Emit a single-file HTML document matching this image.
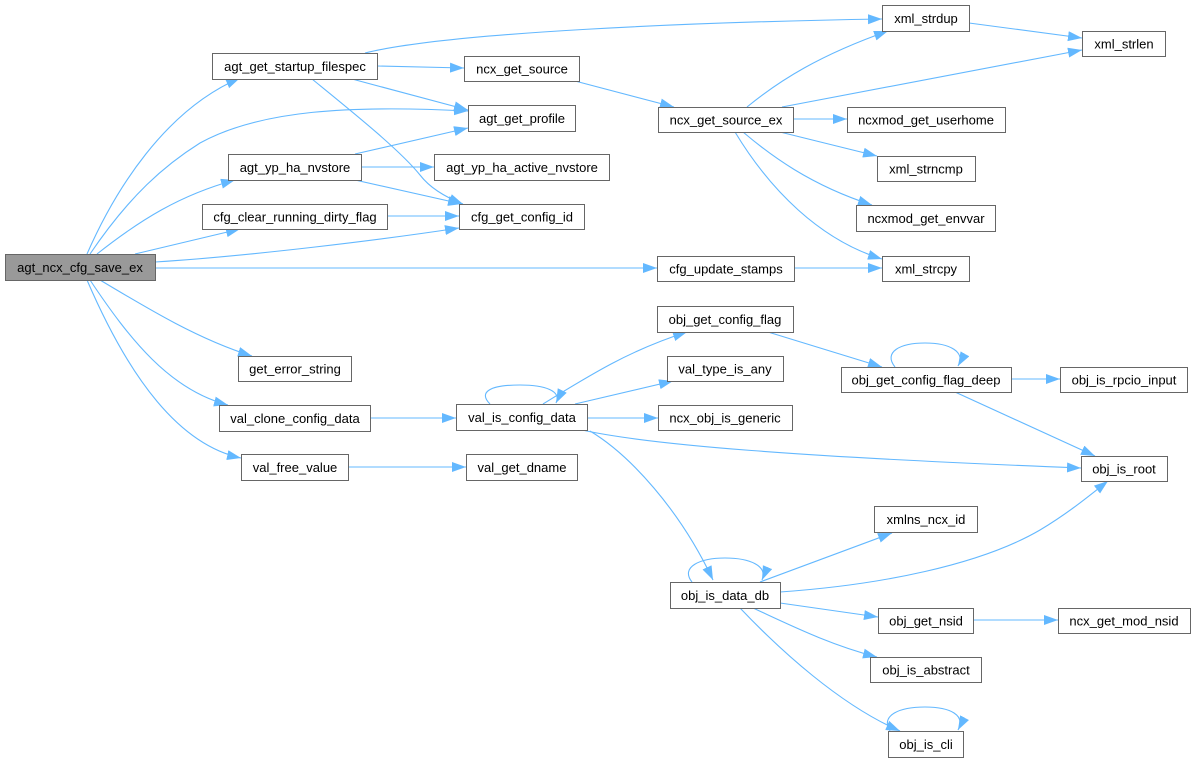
<!DOCTYPE html>
<html><head><meta charset="utf-8"><style>
html,body{margin:0;padding:0;background:#fff;}
svg{display:block;}
text{font-family:"Liberation Sans",Arial,sans-serif;font-size:13px;fill:#000;text-anchor:middle;}
rect{fill:#fff;stroke:#666;stroke-width:1;}
path.e{fill:none;stroke:#63b8ff;stroke-width:1.1;}
</style></head><body>
<svg width="1195" height="761" viewBox="0 0 1195 761" xmlns="http://www.w3.org/2000/svg">
<defs>
<marker id="a" markerUnits="userSpaceOnUse" markerWidth="16" markerHeight="12" refX="14" refY="5" orient="auto">
<path d="M0,0 L14,5 L0,10 z" fill="#63b8ff"/>
</marker>
</defs>
<g marker-end="url(#a)">
<!-- root edges -->
<path class="e" d="M87,254 C115,190 165,110 240,78"/>
<path class="e" d="M90,254 C130,195 165,165 200,143 C260,110 350,105 468,111"/>
<path class="e" d="M97,254 C140,220 180,195 235,180"/>
<path class="e" d="M135,254 L240,229"/>
<path class="e" d="M155,262 C250,256 380,240 459,228"/>
<path class="e" d="M155,268 L657,268"/>
<path class="e" d="M100,280 C150,310 200,340 252,356"/>
<path class="e" d="M90,280 C130,340 170,390 228,405"/>
<path class="e" d="M87,280 C130,380 180,445 241,458"/>
<!-- agt_get_startup_filespec -->
<path class="e" d="M365,53 C450,32 700,22 882,19"/>
<path class="e" d="M377,66 L464,68"/>
<path class="e" d="M352,79 L468,110"/>
<path class="e" d="M312,79 C350,110 400,150 420,175 C430,188 445,197 463,204"/>
<!-- agt_yp_ha_nvstore -->
<path class="e" d="M355,154 L468,128"/>
<path class="e" d="M361,167 L434,167"/>
<path class="e" d="M355,180 L462,204"/>
<!-- cfg_clear_running_dirty_flag -->
<path class="e" d="M387,216 L459,216"/>
<!-- ncx_get_source -->
<path class="e" d="M575,81 L674,107"/>
<!-- ncx_get_source_ex -->
<path class="e" d="M747,107 C780,80 820,55 888,31"/>
<path class="e" d="M782,107 L1082,50"/>
<path class="e" d="M793,119 L847,119"/>
<path class="e" d="M780,132 L877,156"/>
<path class="e" d="M743,132 C770,155 810,185 872,205"/>
<path class="e" d="M735,132 C770,190 820,240 882,259"/>
<!-- cfg_update_stamps -->
<path class="e" d="M794,268 L882,268"/>
<!-- xml_strdup -->
<path class="e" d="M969,23 L1082,38"/>
<!-- val_clone / val_free -->
<path class="e" d="M370,418 L456,418"/>
<path class="e" d="M348,467 L466,467"/>
<!-- val_is_config_data -->
<path class="e" d="M490,404 C478,392 490,385 520,385 C545,385 562,391 556,403"/>
<path class="e" d="M543,404 C590,375 630,350 687,332"/>
<path class="e" d="M575,404 L673,381"/>
<path class="e" d="M587,418 L658,418"/>
<path class="e" d="M582,430 C650,445 800,457 1081,468"/>
<path class="e" d="M590,431 C630,455 680,510 713,580"/>
<!-- obj_get_config_flag -->
<path class="e" d="M768,332 L882,367"/>
<!-- obj_get_config_flag_deep -->
<path class="e" d="M895,367 C883,352 900,343 925,343 C950,343 966,352 958,366"/>
<path class="e" d="M1011,379 L1060,379"/>
<path class="e" d="M955,392 L1095,456"/>
<!-- obj_is_data_db -->
<path class="e" d="M692,582 C680,567 700,558 725,558 C750,558 768,566 762,580"/>
<path class="e" d="M760,582 L892,533"/>
<path class="e" d="M780,592 C880,585 980,565 1040,530 C1070,512 1090,495 1108,481"/>
<path class="e" d="M780,603 L878,617"/>
<path class="e" d="M753,608 C790,625 830,645 877,657"/>
<path class="e" d="M740,608 C780,650 840,705 900,731"/>
<!-- obj_is_cli -->
<path class="e" d="M890,731 C880,715 900,707 925,707 C950,707 966,715 958,730"/>
<!-- obj_get_nsid -->
<path class="e" d="M973,620 L1058,620"/>
</g>

<!-- nodes -->
<rect x="5.5" y="254.5" width="150" height="26" style="fill:#999"/><text x="80" y="272">agt_ncx_cfg_save_ex</text>
<rect x="212.5" y="53.5" width="165" height="26"/><text x="295" y="71">agt_get_startup_filespec</text>
<rect x="228.5" y="154.5" width="133" height="26"/><text x="295" y="172">agt_yp_ha_nvstore</text>
<rect x="202.5" y="204.5" width="185" height="25"/><text x="295" y="221.5">cfg_clear_running_dirty_flag</text>
<rect x="464.5" y="56.5" width="115" height="25"/><text x="522" y="73.5">ncx_get_source</text>
<rect x="468.5" y="105.5" width="107" height="26"/><text x="522" y="123">agt_get_profile</text>
<rect x="434.5" y="154.5" width="175" height="26"/><text x="522" y="172">agt_yp_ha_active_nvstore</text>
<rect x="459.5" y="204.5" width="125" height="25"/><text x="522" y="221.5">cfg_get_config_id</text>
<rect x="658.5" y="107.5" width="135" height="25"/><text x="726" y="124.5">ncx_get_source_ex</text>
<rect x="657.5" y="256.5" width="137" height="25"/><text x="726" y="273.5">cfg_update_stamps</text>
<rect x="882.5" y="5.5" width="87" height="26"/><text x="926" y="23">xml_strdup</text>
<rect x="1082.5" y="31.5" width="83" height="25"/><text x="1124" y="48.5">xml_strlen</text>
<rect x="847.5" y="107.5" width="158" height="25"/><text x="926" y="124.5">ncxmod_get_userhome</text>
<rect x="877.5" y="156.5" width="98" height="25"/><text x="926" y="173.5">xml_strncmp</text>
<rect x="856.5" y="205.5" width="139" height="26"/><text x="926" y="223">ncxmod_get_envvar</text>
<rect x="882.5" y="256.5" width="87" height="25"/><text x="926" y="273.5">xml_strcpy</text>
<rect x="238.5" y="356.5" width="113" height="25"/><text x="295" y="373.5">get_error_string</text>
<rect x="219.5" y="405.5" width="151" height="26"/><text x="295" y="423">val_clone_config_data</text>
<rect x="241.5" y="454.5" width="107" height="26"/><text x="295" y="472">val_free_value</text>
<rect x="657.5" y="306.5" width="136" height="26"/><text x="725" y="324">obj_get_config_flag</text>
<rect x="667.5" y="356.5" width="116" height="25"/><text x="725" y="373.5">val_type_is_any</text>
<rect x="456.5" y="404.5" width="131" height="26"/><text x="522" y="422">val_is_config_data</text>
<rect x="658.5" y="405.5" width="134" height="25"/><text x="725" y="422.5">ncx_obj_is_generic</text>
<rect x="466.5" y="454.5" width="111" height="26"/><text x="522" y="472">val_get_dname</text>
<rect x="841.5" y="367.5" width="170" height="25"/><text x="926" y="384.5">obj_get_config_flag_deep</text>
<rect x="1060.5" y="367.5" width="127" height="25"/><text x="1124" y="384.5">obj_is_rpcio_input</text>
<rect x="1081.5" y="456.5" width="86" height="25"/><text x="1124" y="473.5">obj_is_root</text>
<rect x="874.5" y="506.5" width="103" height="26"/><text x="926" y="524">xmlns_ncx_id</text>
<rect x="670.5" y="582.5" width="110" height="26"/><text x="725" y="600">obj_is_data_db</text>
<rect x="878.5" y="608.5" width="95" height="25"/><text x="926" y="625.5">obj_get_nsid</text>
<rect x="1058.5" y="608.5" width="132" height="25"/><text x="1124" y="625.5">ncx_get_mod_nsid</text>
<rect x="870.5" y="657.5" width="111" height="25"/><text x="926" y="674.5">obj_is_abstract</text>
<rect x="888.5" y="731.5" width="75" height="26"/><text x="926" y="749">obj_is_cli</text>
</svg>
</body></html>
